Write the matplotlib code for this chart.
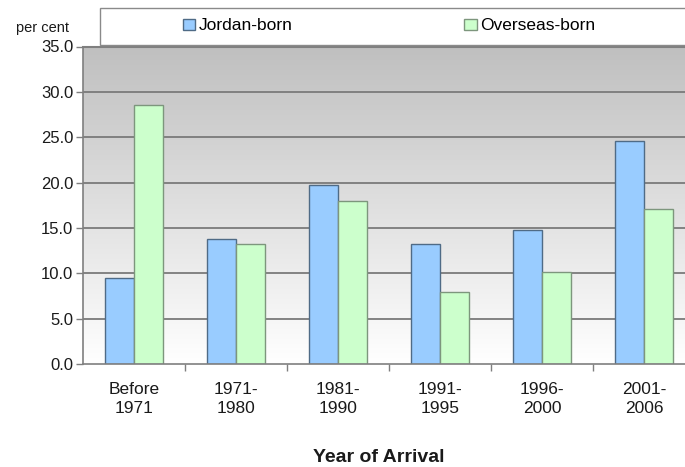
import numpy as np
import matplotlib
matplotlib.use("Agg")
import matplotlib.pyplot as plt
from matplotlib.patches import Rectangle

plt.rcParams['font.family'] = ['Liberation Sans', 'DejaVu Sans']

categories = ["Before\n1971", "1971-\n1980", "1981-\n1990", "1991-\n1995", "1996-\n2000", "2001-\n2006"]
jordan_born = [9.5, 13.8, 19.7, 13.2, 14.8, 24.6]
overseas_born = [28.6, 13.2, 18.0, 7.9, 10.1, 17.1]
series_names = ["Jordan-born", "Overseas-born"]
y_ticks = [0, 5, 10, 15, 20, 25, 30, 35]

W, H = 685, 467
fig = plt.figure(figsize=(W / 100, H / 100), dpi=100)

left, right, top, bottom = 83, 695, 46.5, 364
ax = fig.add_axes([left / W, 1 - bottom / H, (right - left) / W, (bottom - top) / H])

x = np.arange(len(categories))
bw = 0.285

# vertical gradient background behind the plot
grad = np.linspace(0, 1, 256).reshape(-1, 1)
top_c = np.array([0.75, 0.75, 0.75])
bot_c = np.array([1.0, 1.0, 1.0])
img = top_c + (bot_c - top_c) * grad
img = np.repeat(img[:, None, :], 2, axis=1).reshape(256, 2, 3)
ax.imshow(img, extent=[-0.5, len(categories) - 0.5, 0, 35], aspect='auto',
          origin='upper', zorder=0, interpolation='bilinear')

for yv in y_ticks[1:]:
    ax.axhline(yv, color='#7a7a7a', lw=1.3, zorder=1)

b1 = ax.bar(x - bw / 2, jordan_born, bw, color='#99ccff', edgecolor='#4f6b86',
            lw=1.0, zorder=2, label=series_names[0])
b2 = ax.bar(x + bw / 2, overseas_born, bw, color='#ccffcc', edgecolor='#7d967d',
            lw=1.0, zorder=2, label=series_names[1])

ax.set_xlim(-0.5, len(categories) - 0.5)
ax.set_ylim(0, 35)
ax.set_yticks(y_ticks)
ax.set_yticklabels([f"{v:.1f}" for v in y_ticks], fontsize=12, color='#1a1a1a')
ax.set_xticks(x)
ax.set_xticklabels(categories, fontsize=12.5, color='#1a1a1a', linespacing=1.35)
ax.tick_params(axis='x', length=0, pad=13)
ax.set_xticks(np.arange(0.5, len(categories) - 0.5, 1), minor=True)
ax.tick_params(axis='x', which='minor', length=5, color='#7f7f7f', width=1)
ax.tick_params(axis='y', length=5, color='#7f7f7f', width=1, pad=2)

ax.spines['right'].set_visible(False)
for s in ['left', 'bottom', 'top']:
    ax.spines[s].set_color('#7f7f7f')
ax.spines['left'].set_linewidth(1.2)
ax.spines['bottom'].set_linewidth(1.2)
ax.spines['top'].set_linewidth(1.5)

fig.text(379 / W, 1 - 457 / H, "Year of Arrival", fontsize=14,
         fontweight='bold', ha='center', va='center', color='#1a1a1a')
fig.text(42 / W, 1 - 28 / H, "per cent", fontsize=10.5, ha='center', va='center',
         color='#1a1a1a')

# legend box across the top
fig.patches.append(Rectangle((100 / W, 1 - 45 / H), 600 / W, 37 / H,
                             transform=fig.transFigure, facecolor='white',
                             edgecolor='#8a8a8a', lw=1.0, zorder=3))
fig.legend(handles=[b1, b2], labels=series_names, loc='center left',
           bbox_to_anchor=(183 / W, 1 - 26 / H), ncol=2, frameon=False,
           fontsize=12.5, handlelength=0.7, handleheight=0.6,
           handletextpad=0.2, columnspacing=9.9, borderpad=0,
           borderaxespad=0)

fig.savefig("out.png", dpi=100)
